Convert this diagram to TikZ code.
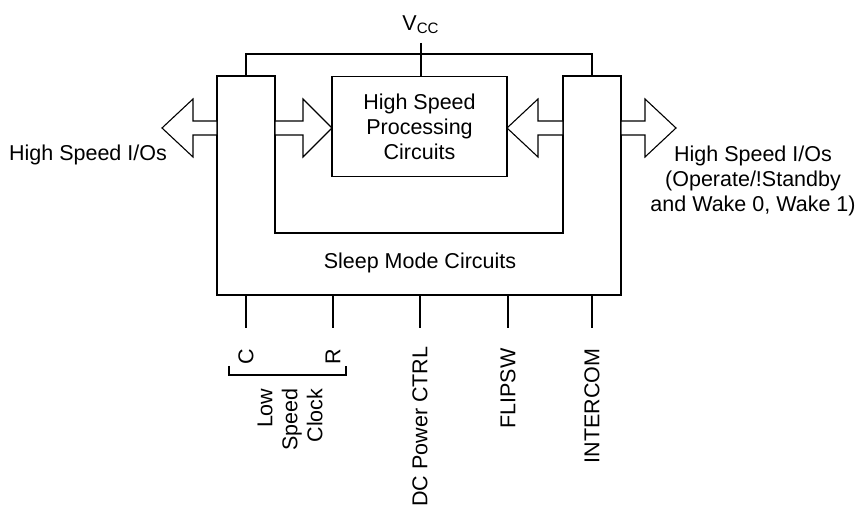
\documentclass[tikz,border=0pt]{standalone}
\usepackage{fontspec}
\setmainfont{Liberation Sans}
\usetikzlibrary{positioning,calc}

% block arrow for the I/O buses: tail x, head base x, tip x
\newcommand{\ioarrow}[3]{%
  \draw[blockarr] (#1,121) -- (#2,121) -- (#2,99) -- (#3,128) -- (#2,157) -- (#2,135) -- (#1,135) -- cycle;}

\tikzset{
  blockarr/.style = {draw=black, fill=white, line width=0.55pt, line join=miter},
  wire/.style = {draw=black, line width=0.55pt},
  pinlabel/.style = {rotate=90, anchor=east, inner sep=0pt}
}

\begin{document}
\begin{tikzpicture}[x=0.5pt, y=-0.5pt, font=\fontsize{10.75pt}{12.5pt}\selectfont, line width=0.55pt]
  \useasboundingbox (0,0) rectangle (857,506);

  % sleep mode block (U shape)
  \coordinate (sl1) at (217,76);
  \coordinate (sl2) at (275,76);
  \coordinate (sl3) at (275,233);
  \coordinate (sl4) at (563,233);
  \coordinate (sl5) at (563,76);
  \coordinate (sl6) at (621,76);
  \coordinate (sl7) at (621,295);
  \coordinate (sl8) at (217,295);
  \draw[wire] (sl1) -- (sl2) -- (sl3) -- (sl4) -- (sl5) -- (sl6) -- (sl7) -- (sl8) -- cycle;
  \node (sleep) at (420,263) {Sleep Mode Circuits};

  \node[draw=black, minimum width=87.5pt, minimum height=50pt, align=center]
  at (419.5,126.5) (proc) {High Speed\\Processing\\Circuits};

  % supply
  \node (vcc) at (421,25) {V\textsubscript{CC}};
  \coordinate (vcctap) at (421,43);
  \coordinate (rail) at (421,54);
  \coordinate (railL) at (246,76);
  \coordinate (railR) at (592,76);
  \draw[wire] (railL) |- (rail) -| (railR);
  \draw[wire] (vcctap) -- (vcctap |- proc.north);

  % buses
  \ioarrow{217}{193}{162}
  \ioarrow{275}{303}{332}
  \ioarrow{563}{538}{507}
  \ioarrow{621}{645}{676}

  \node at (88,155) (hsleft) {High Speed I/Os};
  \node[align=center] at (753,181) (hsright)
  {High Speed I/Os\\(Operate/!Standby\\and Wake 0, Wake 1)};

  % pins
  \foreach \x/\name in {246/c, 333/r, 420/dc, 508/flip, 592/inter} {
    \coordinate (pin\name) at (\x,295);
    \coordinate (end\name) at (\x,328);
    \draw[wire] (pin\name) -- (end\name);
  }

  \node[pinlabel] at (246,348) (lc) {C};
  \node[pinlabel] at (333,348) (lr) {R};
  \node[pinlabel] at (420,346) (ldc) {DC Power CTRL};
  \node[pinlabel] at (508,348) (lflip) {FLIPSW};
  \node[pinlabel] at (592,348) (linter) {INTERCOM};

  % clock bracket
  \coordinate (brl) at (229,366);
  \coordinate (brr) at (346,366);
  \draw[wire] (brl) -- ++(0,9) -| (brr);
  \node[pinlabel, align=right] at (290,388) (clk) {Low\\Speed\\Clock};

\end{tikzpicture}
\end{document}
